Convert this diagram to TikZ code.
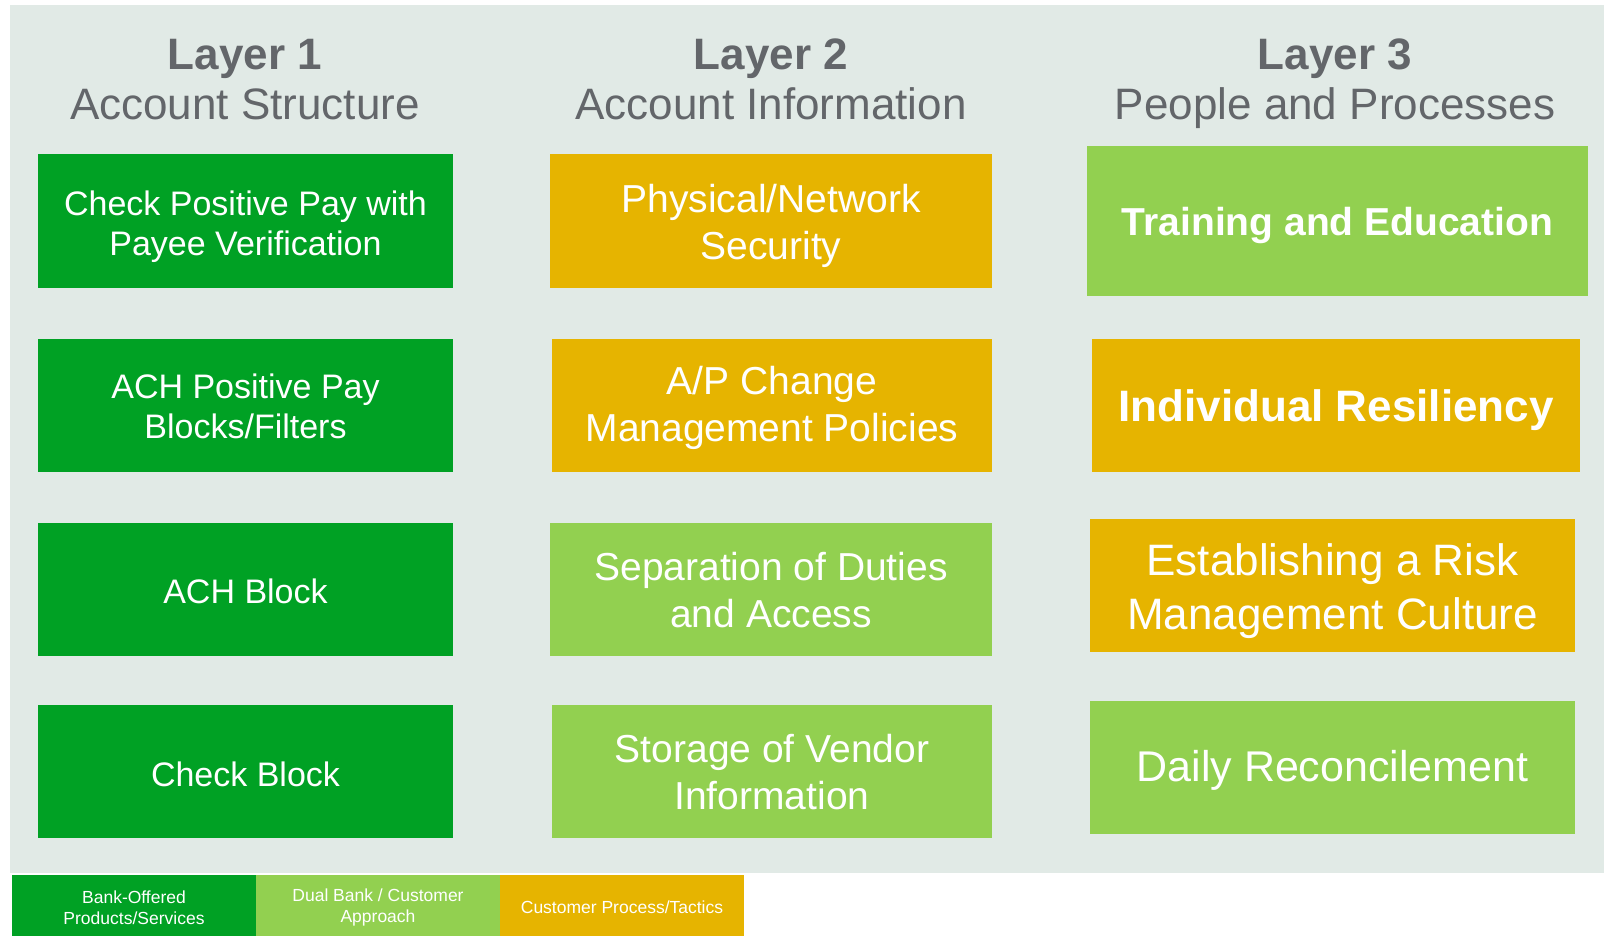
\documentclass[tikz,border=0pt]{standalone}
\usepackage{fontspec}
\setmainfont{Liberation Sans}
\definecolor{panelbg}{HTML}{E1EAE6}
\definecolor{bankgreen}{HTML}{00A124}
\definecolor{dualgreen}{HTML}{92D050}
\definecolor{custorange}{HTML}{E6B400}
\definecolor{headgray}{HTML}{63666A}
\tikzset{
  tile/.style={inner sep=0pt, anchor=center},
  tiletext/.style={inner sep=0pt, align=center, text=white, anchor=center},
  headtitle/.style={inner sep=0pt, text=headgray, anchor=base,
                    font=\bfseries\fontsize{44}{50}\selectfont},
  headsub/.style={inner sep=0pt, text=headgray, anchor=base,
                  font=\fontsize{44}{50}\selectfont},
  key/.style={inner sep=0pt, minimum height=61pt, minimum width=244pt},
  keytext/.style={inner sep=0pt, align=center, text=white,
                  font=\fontsize{17.5}{21}\selectfont},
}
\begin{document}
\begin{tikzpicture}[x=1pt,y=1pt]
\useasboundingbox (0,0) rectangle (1604,-936);
\fill[white] (0,0) rectangle (1604,-936);
% background panel
\fill[panelbg] (10,-5) rectangle (1604,-873);

% column headings
\node[headtitle] (h1a) at (245,-70) {Layer 1};
\node[headsub]   (h1b) at (245,-120) {Account Structure};
\node[headtitle] (h2a) at (771,-70) {Layer 2};
\node[headsub]   (h2b) at (771,-120) {Account Information};
\node[headtitle] (h3a) at (1335,-70) {Layer 3};
\node[headsub]   (h3b) at (1335,-120) {People and Processes};

% layer 1: account structure
\node[tile, fill=bankgreen, minimum width=415pt, minimum height=133pt] (a1) at (245.5,-221) {};
\node[tile, fill=bankgreen, minimum width=415pt, minimum height=133pt] (a2) at (245.5,-405) {};
\node[tile, fill=bankgreen, minimum width=415pt, minimum height=133pt] (a3) at (245.5,-589) {};
\node[tile, fill=bankgreen, minimum width=415pt, minimum height=133pt] (a4) at (245.5,-771) {};
\node[tiletext, font=\fontsize{34}{40}\selectfont] (a1t) at ([yshift=-6pt]a1.center)
      {Check Positive Pay with\\Payee Verification};
\node[tiletext, font=\fontsize{34}{40}\selectfont] (a2t) at ([yshift=-1pt]a2.center)
      {ACH Positive Pay\\Blocks/Filters};
\node[tiletext, font=\fontsize{34}{40}\selectfont] (a3t) at ([yshift=-2pt]a3.center) {ACH Block};
\node[tiletext, font=\fontsize{34}{40}\selectfont] (a4t) at ([yshift=-3pt]a4.center) {Check Block};

% layer 2: account information
\node[tile, fill=custorange, minimum width=442pt, minimum height=133pt] (b1) at (771,-221) {};
\node[tile, fill=custorange, minimum width=440pt, minimum height=133pt] (b2) at (772,-405) {};
\node[tile, fill=dualgreen,  minimum width=442pt, minimum height=133pt] (b3) at (771,-589) {};
\node[tile, fill=dualgreen,  minimum width=440pt, minimum height=133pt] (b4) at (772,-771) {};
\node[tiletext, font=\fontsize{39}{47}\selectfont] (b1t) at ([yshift=-4.5pt]b1.center)
      {Physical/Network\\Security};
\node[tiletext, font=\fontsize{39}{47}\selectfont] (b2t) at ([yshift=-2.5pt]b2.center)
      {A/P Change\\Management Policies};
\node[tiletext, font=\fontsize{39}{47}\selectfont] (b3t) at ([yshift=-1pt]b3.center)
      {Separation of Duties\\and Access};
\node[tiletext, font=\fontsize{39}{47}\selectfont] (b4t) at ([yshift=-1pt]b4.center)
      {Storage of Vendor\\Information};

% layer 3: people and processes
\node[tile, fill=dualgreen,  minimum width=501pt, minimum height=150pt] (c1) at (1337.5,-221) {};
\node[tile, fill=custorange, minimum width=488pt, minimum height=133pt] (c2) at (1336,-405.5) {};
\node[tile, fill=custorange, minimum width=485pt, minimum height=133pt] (c3) at (1332.5,-585.5) {};
\node[tile, fill=dualgreen,  minimum width=485pt, minimum height=133pt] (c4) at (1332.5,-767.5) {};
\node[tiletext, font=\bfseries\fontsize{39}{47}\selectfont] (c1t) at ([yshift=-5pt]c1.center)
      {Training and Education};
\node[tiletext, font=\bfseries\fontsize{44}{50}\selectfont] (c2t) at ([yshift=-5pt]c2.center)
      {Individual Resiliency};
\node[tiletext, font=\fontsize{44}{54}\selectfont] (c3t) at ([yshift=-6pt]c3.center)
      {Establishing a Risk\\Management Culture};
\node[tiletext, font=\fontsize{43}{50}\selectfont] (c4t) at ([yshift=-3pt]c4.center)
      {Daily Reconcilement};

% legend
\node[key, fill=bankgreen]  (k1) at (134,-905.5) {};
\node[key, fill=dualgreen]  (k2) at (378,-905.5) {};
\node[key, fill=custorange] (k3) at (622,-905.5) {};
\node[keytext] (k1t) at ([yshift=-2pt]k1.center) {Bank-Offered\\Products/Services};
\node[keytext] (k2t) at ([yshift=-2pt]k2.center) {Dual Bank / Customer\\Approach};
\node[keytext] (k3t) at ([yshift=-2pt]k3.center) {Customer Process/Tactics};
\end{tikzpicture}
\end{document}
